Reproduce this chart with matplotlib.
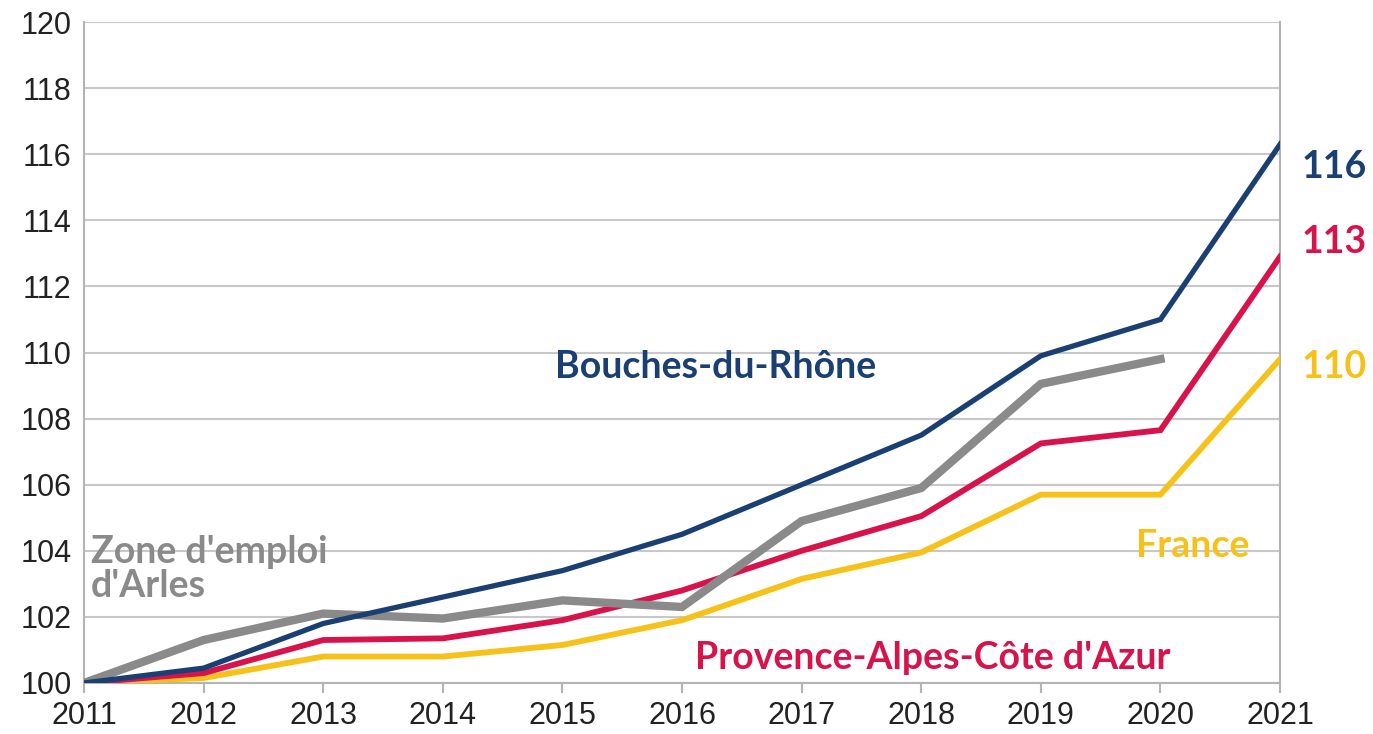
"""
Indice d'évolution 2011-2021 (base 100 en 2011).
"""

import matplotlib.pyplot as plt

years = [2011, 2012, 2013, 2014, 2015, 2016, 2017, 2018, 2019, 2020, 2021]

bouches_du_rhone = [100, 100.45, 101.8, 102.6, 103.4, 104.5, 106.0, 107.5, 109.9, 111.0, 116.3]
paca = [100, 100.3, 101.3, 101.35, 101.9, 102.8, 104.0, 105.05, 107.25, 107.65, 112.9]
france = [100, 100.15, 100.8, 100.8, 101.15, 101.9, 103.15, 103.95, 105.7, 105.7, 109.8]
arles_years = years[:-1]
arles = [100, 101.3, 102.1, 101.95, 102.5, 102.3, 104.9, 105.9, 109.05, 109.8]

blue = "#1a3f73"
red = "#d8124b"
yellow = "#f6c21a"
gray = "#8a8a8a"

fig = plt.figure(figsize=(13.73, 7.34), dpi=100)
ax = fig.add_axes([0.0612, 0.0695, 0.8711, 0.9005])

ax.plot(years, france, color=yellow, lw=4.2, solid_joinstyle="miter", zorder=3)
ax.plot(years, paca, color=red, lw=4.2, solid_joinstyle="miter", zorder=4)
ax.plot(arles_years, arles, color=gray, lw=6, solid_joinstyle="miter", zorder=5)
ax.plot(years, bouches_du_rhone, color=blue, lw=3.8, solid_joinstyle="miter", zorder=6)

ax.set_xlim(2011, 2021)
ax.set_ylim(100, 120)
ax.set_xticks(years)
ax.set_yticks(range(100, 121, 2))
ax.grid(axis="y", color="#c8c8c8", lw=1.5)
ax.set_axisbelow(True)
for side in ["left", "right", "bottom"]:
    ax.spines[side].set_color("#b4b4b4")
    ax.spines[side].set_linewidth(1.5)
ax.spines["top"].set_visible(False)
ax.tick_params(axis="x", length=7, width=1.5, color="#b4b4b4", pad=6)
ax.tick_params(axis="y", length=0, pad=9)
for lab in ax.get_xticklabels() + ax.get_yticklabels():
    lab.set_fontfamily("Liberation Sans")
    lab.set_fontsize(22)
    lab.set_color("#222222")

lab_font = dict(family="Lato", weight="bold", fontsize=27)
ax.text(2016.28, 109.55, "Bouches-du-Rhône", color=blue, ha="center", va="center", **lab_font)
ax.text(2011.06, 103.45, "Zone d'emploi\nd'Arles", color=gray, ha="left", va="center",
        linespacing=1.0, **lab_font)
ax.text(2020.27, 104.15, "France", color=yellow, ha="center", va="center", **lab_font)
ax.text(2018.1, 100.75, "Provence-Alpes-Côte d'Azur", color=red, ha="center", va="center", **lab_font)

end_font = dict(family="Lato", weight="bold", fontsize=27, clip_on=False)
ax.text(2021.18, 115.6, "116", color=blue, ha="left", va="center", **end_font)
ax.text(2021.18, 113.35, "113", color=red, ha="left", va="center", **end_font)
ax.text(2021.18, 109.55, "110", color=yellow, ha="left", va="center", **end_font)

fig.savefig("out.png", dpi=100, facecolor="white")
